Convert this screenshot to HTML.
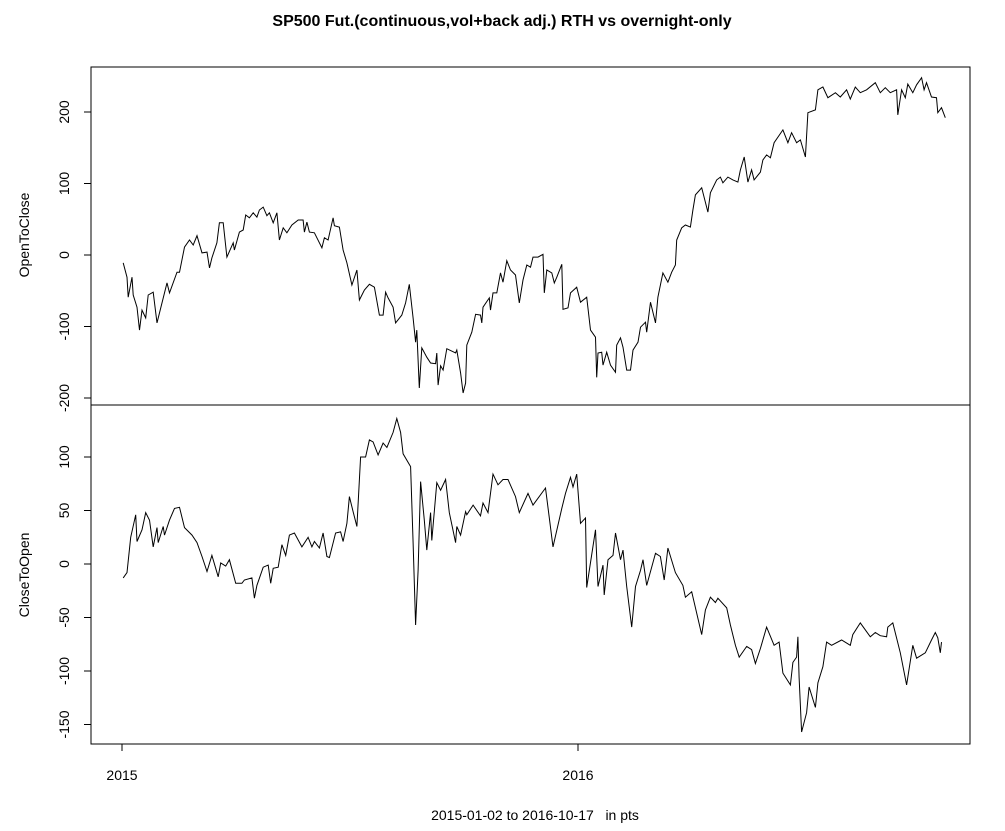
<!DOCTYPE html>
<html><head><meta charset="utf-8"><style>
body{margin:0;background:#fff;}
svg text{font-family:"Liberation Sans",Arial,sans-serif;fill:#000;}
</style></head><body>
<svg id="chart" width="1005" height="826" xmlns="http://www.w3.org/2000/svg">
<text x="502" y="26" text-anchor="middle" font-size="16" font-weight="bold">SP500 Fut.(continuous,vol+back adj.) RTH vs overnight-only</text>
<text x="535" y="820" text-anchor="middle" font-size="14" xml:space="preserve">2015-01-02 to 2016-10-17   in pts</text>
<text transform="translate(29,235) rotate(-90)" text-anchor="middle" font-size="14">OpenToClose</text>
<text transform="translate(29,575) rotate(-90)" text-anchor="middle" font-size="14">CloseToOpen</text>
<g id="g"></g>
</svg>
<script>
const topDays=[1,4,5,8,9,12,14,16,19,21,25,28,30,36,38,44,46,50,54,57,60,64,68,70,72,76,78,81,84,89,90,94,97,99,102,105,108,110,113,116,118,121,124,126,129,132,136,141,145,146,148,150,154,160,162,165,169,170,174,177,180,184,188,190,194,198,202,206,209,211,213,217,219,224,227,230,233,235,236,238,240,244,247,251,252,253,255,257,260,267,268,271,273,275,276,280,283,287,288,289,294,295,297,300,303,305,308,311,315,318,321,324,327,329,333,337,338,340,344,346,348,352,353,357,359,364,367,372,375,379,380,381,384,385,388,391,395,396,399,401,404,407,409,413,415,419,420,423,427,429,433,437,440,443,444,448,451,455,457,459,464,469,471,476,479,481,485,489,493,495,498,501,504,506,511,513,516,519,522,529,533,536,540,543,547,549,555,557,561,565,571,575,580,583,587,591,596,603,607,611,615,620,621,624,627,629,633,636,640,642,644,648,652,653,656,659];
const openToClose=[-11,-31,-59,-31,-56,-73,-105,-77,-88,-56,-52,-95,-81,-39,-53,-24,-24,11,21,14,27,3,4,-18,-4,17,45,45,-3,17,7,32,35,56,52,59,53,63,67,55,59,45,59,21,38,31,42,49,49,32,46,32,31,10,24,21,52,41,39,7,-11,-42,-21,-63,-49,-41,-45,-84,-84,-52,-60,-73,-95,-84,-67,-41,-88,-122,-105,-186,-130,-143,-151,-152,-137,-182,-155,-161,-131,-137,-133,-165,-193,-179,-126,-108,-83,-84,-95,-73,-60,-77,-53,-53,-25,-38,-8,-21,-28,-67,-35,-14,-17,-3,-3,1,-53,-21,-25,-39,-31,-13,-76,-74,-53,-45,-66,-59,-105,-115,-171,-137,-136,-154,-136,-154,-164,-126,-116,-129,-161,-161,-133,-122,-101,-94,-108,-66,-95,-59,-25,-38,-24,-14,21,38,42,39,63,84,94,60,87,105,109,101,109,105,102,119,137,102,119,105,116,133,140,136,157,175,157,171,157,161,137,199,203,231,235,220,227,221,231,218,235,227,231,241,227,234,227,231,196,231,220,239,227,238,248,231,241,221,220,199,206,192];
const botDays=[1,4,7,11,12,16,19,22,25,28,29,33,34,38,42,46,50,56,60,64,68,72,77,79,83,86,91,96,98,104,106,108,113,117,119,121,125,128,131,134,138,144,149,152,154,158,161,164,166,171,175,177,180,182,185,188,191,195,198,201,205,209,212,217,220,223,225,231,233,235,237,239,242,244,247,248,252,255,259,262,267,268,271,275,276,281,287,289,293,297,301,305,309,315,318,325,329,339,345,352,355,359,361,364,367,371,372,379,381,385,386,389,393,395,399,401,404,408,411,415,417,420,427,431,434,437,443,449,451,456,464,467,471,475,477,484,487,491,494,500,504,507,511,516,522,526,529,535,537,540,541,542,544,548,550,555,557,561,564,568,576,583,585,591,599,603,607,612,613,617,623,628,633,636,643,648,651,653,655,656];
const closeToOpen=[-13,-8,25,46,21,32,48,41,16,34,20,35,27,41,52,53,34,27,20,7,-7,8,-12,1,-2,4,-18,-18,-15,-13,-32,-20,-3,-1,-18,-4,-3,18,8,27,29,16,25,16,21,15,29,7,6,29,30,21,38,63,49,35,100,100,116,114,102,113,109,123,136,123,103,91,20,-57,-6,77,41,13,48,22,76,69,79,48,20,35,27,49,46,55,45,57,48,84,74,79,79,63,48,66,55,71,16,52,66,81,72,84,38,43,-22,32,-21,-1,-29,4,8,29,4,13,-21,-59,-21,-6,4,-20,10,7,-15,15,-8,-20,-31,-26,-66,-43,-31,-36,-32,-41,-57,-76,-87,-77,-80,-93,-79,-59,-76,-73,-102,-113,-92,-87,-68,-106,-157,-139,-115,-134,-111,-96,-73,-76,-71,-76,-66,-55,-68,-64,-67,-68,-59,-55,-83,-113,-76,-88,-83,-71,-64,-69,-83,-73];
const topTicks=[-200,-100,0,100,200];
const botTicks=[-150,-100,-50,0,50,100];
const xTickDays=[0,365];
const xTickLabels=["2015","2016"];

const NS="http://www.w3.org/2000/svg";
const g=document.getElementById('g');
const L=91,R=970,T1=67,M=405,B2=744;
const xS=d=>122+d*1.2493;
const yTop=v=>255-v*0.715;
const yBot=v=>564-v*1.07;
function mk(tag,attrs){const e=document.createElementNS(NS,tag);for(const k in attrs)e.setAttribute(k,attrs[k]);g.appendChild(e);return e;}

let e=mk('rect',{x:L,y:T1,width:R-L,height:B2-T1,fill:'none',stroke:'#000','stroke-width':1});


e=mk('line',{x1:L,x2:R,y1:M,y2:M,stroke:'#000'});



function axisY(ticks,f,name){
  ticks.forEach(t=>{
    const y=f(t);
    let l=mk('line',{x1:L-7,x2:L,y1:y,y2:y,stroke:'#000'});
    
    
    let tx=mk('text',{transform:`translate(69,${y}) rotate(-90)`,'text-anchor':'middle','font-size':14});
    tx.textContent=String(t).replace('-','-');
    
    
  });
}
axisY(topTicks,yTop,'top-y-axis');
axisY(botTicks,yBot,'bottom-y-axis');

xTickDays.forEach((d,i)=>{
  const x=xS(d);
  let l=mk('line',{x1:x,x2:x,y1:B2,y2:B2+7,stroke:'#000'});
  
  
  let tx=mk('text',{x:x,y:780,'text-anchor':'middle','font-size':14});
  tx.textContent=xTickLabels[i];
  
  
});

function series(days,vals,f,name){
  const pts=days.map((d,i)=>xS(d).toFixed(1)+','+f(vals[i]).toFixed(1)).join(' ');
  const p=mk('polyline',{points:pts,fill:'none',stroke:'#000','stroke-width':1});
  
  
}
series(topDays,openToClose,yTop,'open-to-close-line');
series(botDays,closeToOpen,yBot,'close-to-open-line');
</script>
</body></html>
